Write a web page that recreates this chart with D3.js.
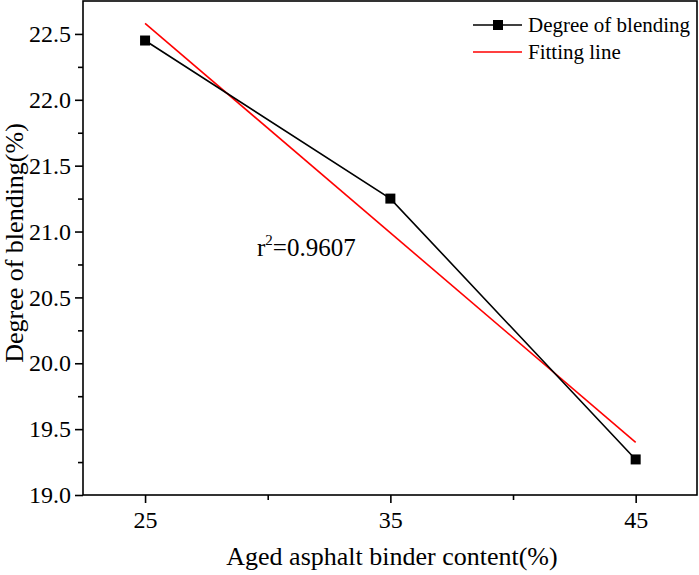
<!DOCTYPE html>
<html>
<head>
<meta charset="utf-8">
<script src="https://cdn.jsdelivr.net/npm/d3@7"></script>
<style>
  body { margin: 0; background: #fff; }
</style>
</head>
<body>
<script>
// data
var content = [25, 35, 45];
var blending = [22.45, 21.25, 19.27];
var fitX = [25, 45];
var fitY = [22.58, 19.40];
var xTicks = [25, 35, 45];
var yTicks = [19.0, 19.5, 20.0, 20.5, 21.0, 21.5, 22.0, 22.5];

var W = 699, H = 575;
var margin = {top: 1, right: 2, bottom: 80, left: 83};
var serif = "'Liberation Serif', 'Times New Roman', Times, serif";

var svg = d3.select("body").append("svg")
    .attr("width", W).attr("height", H)
    .style("font-family", serif);

var xScale = d3.scaleLinear().domain([22.47, 47.5]).range([margin.left, W - margin.right]);
var yScale = d3.scaleLinear().domain([19, 22.75]).range([H - margin.bottom, margin.top]);

// frame
svg.append("rect")
    .attr("x", margin.left).attr("y", margin.top)
    .attr("width", W - margin.right - margin.left)
    .attr("height", H - margin.bottom - margin.top)
    .attr("fill", "none").attr("stroke", "#000").attr("stroke-width", 1.6);

// x axis
var xAxis = d3.axisBottom(xScale).tickValues(xTicks).tickSize(8).tickPadding(8)
    .tickFormat(d3.format("d"));
svg.append("g")
    .attr("transform", "translate(0," + (H - margin.bottom) + ")")
    .call(xAxis);
svg.append("g")
    .attr("transform", "translate(0," + (H - margin.bottom) + ")")
    .call(d3.axisBottom(xScale).tickValues([30, 40]).tickSize(5).tickFormat(""));

// y axis
var yAxis = d3.axisLeft(yScale).tickValues(yTicks).tickSize(8).tickPadding(4)
    .tickFormat(d3.format(".1f"));
svg.append("g")
    .attr("transform", "translate(" + margin.left + ",0)")
    .call(yAxis);
svg.append("g")
    .attr("transform", "translate(" + margin.left + ",0)")
    .call(d3.axisLeft(yScale).tickValues([19.25, 19.75, 20.25, 20.75, 21.25, 21.75, 22.25]).tickSize(5).tickFormat(""));

svg.selectAll(".domain").remove();
svg.selectAll("g").attr("font-family", null);
svg.selectAll(".tick line").attr("stroke", "#000").attr("stroke-width", 1.6);
svg.selectAll(".tick text").attr("fill", "#000")
    .style("font-family", serif).style("font-size", "24px");

// fitting line
svg.append("path")
    .datum(d3.zip(fitX, fitY))
    .attr("d", d3.line().x(function(d) { return xScale(d[0]); }).y(function(d) { return yScale(d[1]); }))
    .attr("fill", "none").attr("stroke", "#ff0000").attr("stroke-width", 1.6);

// data line
var pts = d3.zip(content, blending);
svg.append("path")
    .datum(pts)
    .attr("d", d3.line().x(function(d) { return xScale(d[0]); }).y(function(d) { return yScale(d[1]); }))
    .attr("fill", "none").attr("stroke", "#000").attr("stroke-width", 1.6);

svg.selectAll("rect.pt")
    .data(pts)
    .enter().append("rect").attr("class", "pt")
    .attr("x", function(d) { return xScale(d[0]) - 5; })
    .attr("y", function(d) { return yScale(d[1]) - 5; })
    .attr("width", 10).attr("height", 10)
    .attr("fill", "#000");

// r squared
var r2 = svg.append("text")
    .attr("x", 257).attr("y", 256)
    .style("font-family", serif)
    .style("font-size", "25px");
r2.append("tspan").text("r");
r2.append("tspan").attr("dy", -11).style("font-size", "15px").text("2");
r2.append("tspan").attr("dy", 11).text("=0.9607");

// legend
var lg = svg.append("g");
lg.append("line").attr("x1", 473).attr("x2", 522).attr("y1", 25).attr("y2", 25)
    .attr("stroke", "#000").attr("stroke-width", 1.6);
lg.append("rect").attr("x", 493).attr("y", 20).attr("width", 10).attr("height", 10).attr("fill", "#000");
lg.append("text").attr("x", 528).attr("y", 32).style("font-family", serif)
    .style("font-size", "21px").text("Degree of blending");
lg.append("line").attr("x1", 473).attr("x2", 522).attr("y1", 52).attr("y2", 52)
    .attr("stroke", "#ff0000").attr("stroke-width", 1.6);
lg.append("text").attr("x", 528).attr("y", 59).style("font-family", serif)
    .style("font-size", "21px").text("Fitting line");

// axis titles
svg.append("text")
    .attr("x", 392).attr("y", 565)
    .attr("text-anchor", "middle")
    .style("font-family", serif)
    .style("font-size", "26px")
    .text("Aged asphalt binder content(%)");

svg.append("text")
    .attr("transform", "translate(23,243) rotate(-90)")
    .attr("text-anchor", "middle")
    .style("font-family", serif)
    .style("font-size", "26px")
    .text("Degree of blending(%)");
</script>
</body>
</html>
